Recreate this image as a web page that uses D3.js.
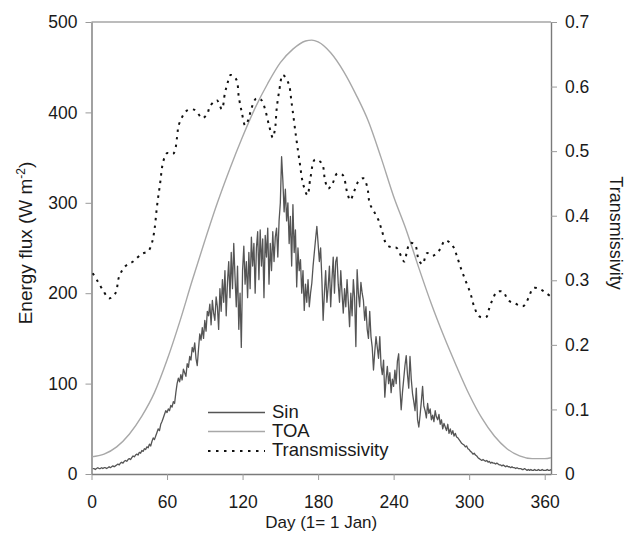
<!DOCTYPE html>
<html>
<head>
<meta charset="utf-8">
<script src="https://cdn.jsdelivr.net/npm/d3@7/dist/d3.min.js"></script>
<style>
  html, body { margin: 0; padding: 0; background: #fff; }
  svg { display: block; font-family: "Liberation Sans", Arial, Helvetica, sans-serif; }
</style>
</head>
<body>
<svg id="chart" width="630" height="549"></svg>
<script>
// ---------------- DATA ----------------
const xTicks = [0, 60, 120, 180, 240, 300, 360];
const yLeftTicks = [0, 100, 200, 300, 400, 500];
const yRightTicks = [0, 0.1, 0.2, 0.3, 0.4, 0.5, 0.6, 0.7];
const seriesNames = ["Sin", "TOA", "Transmissivity"];

// TOA (W m-2), read at 10-day steps
const toaDays = [0, 10, 20, 30, 40, 50, 60, 70, 80, 90, 100, 110, 120, 130, 140, 150, 160, 170, 175, 180, 190, 200, 210, 220, 230, 240, 250, 260, 270, 280, 290, 300, 310, 320, 330, 340, 350, 360, 365];
const toaValues = [19, 22, 30, 44, 64, 90, 126, 168, 214, 258, 300, 338, 373, 405, 432, 455, 470, 479, 480, 478, 466, 446, 420, 390, 350, 307, 270, 228, 188, 152, 119, 88, 62, 42, 28, 20, 17, 17, 18];

// Daily incoming shortwave Sin (W m-2), days 1..365
const sinValues = [
  6,6,5,6,7,6,6,7,6,7,
  7,6,7,8,7,8,9,8,9,10,
  11,10,12,13,12,14,15,14,16,17,
  16,18,20,19,21,22,21,24,23,26,
  25,28,27,30,29,33,31,36,40,38,
  42,46,50,48,55,58,62,66,70,68,
  72,70,76,74,80,78,90,100,106,102,
  110,104,116,112,108,122,118,130,126,140,
  135,145,128,120,138,155,148,162,150,170,
  158,180,175,188,165,192,178,170,196,185,
  160,205,180,215,190,225,175,212,235,195,
  245,205,255,218,185,230,160,200,140,225,
  252,210,235,195,245,205,262,230,255,200,
  250,268,215,270,230,260,195,264,240,272,
  210,255,225,268,235,262,272,240,280,300,
  351,325,290,315,280,300,255,285,230,298,
  245,270,207,250,225,237,200,225,181,210,
  190,215,185,200,211,230,245,260,274,255,
  235,250,215,170,200,225,190,207,230,185,
  215,240,200,235,240,210,190,225,200,178,
  205,185,215,190,163,200,175,215,195,141,
  226,200,185,212,200,192,170,185,160,150,
  180,152,140,115,135,152,140,128,152,120,
  110,126,85,105,119,100,112,90,105,97,
  115,100,125,133,95,71,90,105,120,131,
  110,95,130,105,89,80,70,95,60,52,
  65,80,97,75,70,62,78,67,72,60,
  65,58,70,63,60,66,55,60,50,56,
  52,48,55,45,50,44,48,42,45,41,
  40,38,36,34,33,32,30,31,28,27,
  25,24,22,23,21,20,18,17,16,15,
  16,15,14,15,13,14,12,13,12,12,
  11,12,11,10,10,9,10,9,8,9,
  8,8,7,8,7,7,6,7,6,6,
  6,5,5,6,5,4,5,4,5,4,
  4,5,4,4,5,4,4,5,4,4,
  4,5,4,4,5
];

// Transmissivity (right axis)
const transDays = [1, 5, 9, 14, 19, 22, 27, 33, 40, 45, 48, 50, 52, 54.5, 57, 60, 65, 68, 69, 72, 76, 82, 88, 92, 94, 99.5, 103.5, 106, 108, 110.5, 115, 117, 119.5, 122, 124.5, 127, 131, 135, 138, 141, 144, 146, 147, 149, 152, 156.5, 159, 162.5, 165.5, 168, 171.5, 174, 177.5, 183, 185.5, 188, 191.5, 195, 199.5, 203, 205.5, 208.5, 212, 216, 219, 221, 224, 228, 230.5, 234.5, 238.5, 242.5, 246, 248.5, 250.5, 253, 257, 260, 263, 266.5, 271, 276.5, 281, 287, 290, 293, 297, 301, 304, 308, 313.5, 316, 319, 322, 327, 331, 336.5, 343, 347, 351, 356.5, 360.5, 364];
const transValues = [0.311, 0.298, 0.285, 0.272, 0.28, 0.306, 0.322, 0.329, 0.341, 0.345, 0.358, 0.378, 0.414, 0.45, 0.484, 0.497, 0.496, 0.522, 0.538, 0.553, 0.563, 0.564, 0.551, 0.558, 0.569, 0.579, 0.565, 0.59, 0.605, 0.618, 0.611, 0.584, 0.559, 0.54, 0.548, 0.566, 0.582, 0.579, 0.564, 0.54, 0.521, 0.538, 0.564, 0.592, 0.618, 0.605, 0.574, 0.522, 0.481, 0.45, 0.432, 0.46, 0.487, 0.481, 0.455, 0.442, 0.45, 0.465, 0.463, 0.437, 0.424, 0.437, 0.453, 0.458, 0.445, 0.419, 0.408, 0.393, 0.378, 0.355, 0.351, 0.35, 0.337, 0.329, 0.344, 0.358, 0.355, 0.331, 0.325, 0.342, 0.338, 0.347, 0.362, 0.353, 0.339, 0.321, 0.3, 0.28, 0.259, 0.244, 0.243, 0.257, 0.272, 0.282, 0.282, 0.269, 0.264, 0.26, 0.272, 0.288, 0.286, 0.281, 0.276];

// ---------------- CHART ----------------
const svg = d3.select("#chart");
const pL = 91.5, pR = 551, pT = 22, pB = 474;
const axisColor = "#7a7a7a";
const textColor = "#1a1a1a";
const fontSize = 17.5;

const x = d3.scaleLinear().domain([0, 365]).range([pL, pR]);
const yL = d3.scaleLinear().domain([0, 500]).range([pB, pT]);
const yR = d3.scaleLinear().domain([0, 0.7]).range([pB, pT]);

// top border
svg.append("line").attr("x1", pL).attr("x2", pR).attr("y1", pT).attr("y2", pT)
  .attr("stroke", axisColor).attr("stroke-width", 1.2);

function styleAxis(g) {
  g.select(".domain").attr("stroke", axisColor).attr("stroke-width", 1.4);
  g.selectAll(".tick line").attr("stroke", "#9a9a9a").attr("stroke-width", 1);
  g.selectAll(".tick text").attr("fill", textColor).attr("font-size", fontSize)
    .attr("font-family", "Liberation Sans, Arial, sans-serif");
}

const xAxis = svg.append("g").attr("transform", `translate(0,${pB})`)
  .call(d3.axisBottom(x).tickValues(xTicks).tickSize(6).tickSizeOuter(0).tickPadding(15.5).tickFormat(d3.format("d")));
styleAxis(xAxis);

const yAxisL = svg.append("g").attr("transform", `translate(${pL},0)`)
  .call(d3.axisLeft(yL).tickValues(yLeftTicks).tickSize(6).tickSizeOuter(0).tickPadding(8).tickFormat(d3.format("d")));
styleAxis(yAxisL);

const yAxisR = svg.append("g").attr("transform", `translate(${pR},0)`)
  .call(d3.axisRight(yR).tickValues(yRightTicks).tickSize(6).tickSizeOuter(0).tickPadding(8)
    .tickFormat(d => d === 0 ? "0" : d3.format(".1f")(d)));
styleAxis(yAxisR);

// series
const toaData = toaDays.map((d, i) => [d, toaValues[i]]);
svg.append("path").datum(toaData)
  .attr("fill", "none").attr("stroke", "#a8a8a8").attr("stroke-width", 1.4)
  .attr("d", d3.line().x(d => x(d[0])).y(d => yL(d[1])).curve(d3.curveMonotoneX));

const sinData = sinValues.map((v, i) => [i + 1, v]);
svg.append("path").datum(sinData)
  .attr("fill", "none").attr("stroke", "#555").attr("stroke-width", 1.3)
  .attr("stroke-linejoin", "round")
  .attr("d", d3.line().x(d => x(d[0])).y(d => yL(d[1])));

const transData = transDays.map((d, i) => [d, transValues[i]]);
svg.append("path").datum(transData)
  .attr("fill", "none").attr("stroke", "#111").attr("stroke-width", 2)
  .attr("stroke-dasharray", "2.5,5")
  .attr("d", d3.line().x(d => x(d[0])).y(d => yR(d[1])).curve(d3.curveCatmullRom));

// legend
const legend = svg.append("g");
const legY = [412.5, 431.5, 451];
const legStyles = [
  { stroke: "#555", dash: null, w: 1.5 },
  { stroke: "#a8a8a8", dash: null, w: 1.5 },
  { stroke: "#111", dash: "2.5,5.5", w: 2 }
];
seriesNames.forEach((name, i) => {
  legend.append("line").attr("x1", 208).attr("x2", 265).attr("y1", legY[i]).attr("y2", legY[i])
    .attr("stroke", legStyles[i].stroke).attr("stroke-width", legStyles[i].w)
    .attr("stroke-dasharray", legStyles[i].dash);
  legend.append("text").attr("x", 272).attr("y", legY[i] + 5).text(name)
    .attr("font-size", 18.5).attr("fill", textColor);
});

// axis titles
svg.append("text").attr("x", (pL + pR) / 2).attr("y", 528).attr("text-anchor", "middle")
  .attr("font-size", 17).attr("fill", textColor).text("Day (1= 1 Jan)");

const yt = svg.append("text").attr("transform", `translate(32,243) rotate(-90)`)
  .attr("text-anchor", "middle").attr("font-size", 19).attr("fill", textColor);
yt.append("tspan").text("Energy flux (W m");
yt.append("tspan").attr("dy", -7).attr("font-size", 12).text("-2");
yt.append("tspan").attr("dy", 7).text(")");

svg.append("text").attr("transform", `translate(610,233) rotate(90)`)
  .attr("text-anchor", "middle").attr("font-size", 18).attr("fill", textColor).text("Transmissivity");
</script>
</body>
</html>
